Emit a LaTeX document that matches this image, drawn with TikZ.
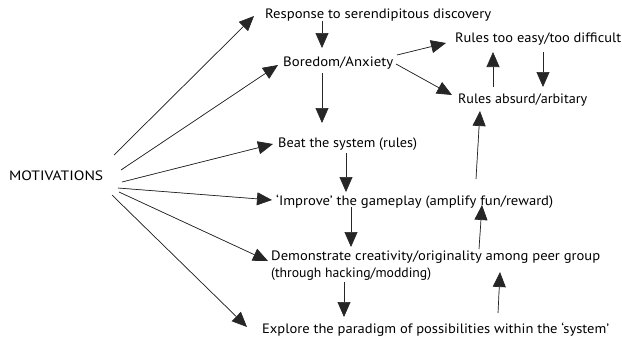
\documentclass[tikz,border=0pt]{standalone}
\usepackage{fontspec}
\setmainfont{PT Sans}
\usetikzlibrary{arrows.meta}
\newsavebox\fitbox
\newcommand\fitw[2]{\sbox\fitbox{#2}\pgfmathsetmacro\fitr{#1/\wd\fitbox}\scalebox{\fitr}[1]{\usebox\fitbox}}
\begin{document}
\begin{tikzpicture}[x=1pt,y=-1pt,
  txt/.style={anchor=base west, inner sep=0pt, font=\fontsize{13.6}{17}\selectfont, align=left},
  arr/.style={-{Triangle[length=15pt,width=13pt]}, line width=0.7pt, draw=black!85, fill=black}]
\useasboundingbox (0,0) rectangle (622,341);
% text nodes
\node[txt] (mot) at (9,180) {\fitw{94}{MOTIVATIONS}};
\node[txt] (resp) at (265,18) {\fitw{226}{Response to serendipitous discovery}};
\node[txt] (bore) at (283,66) {\fitw{110}{Boredom/Anxiety}};
\node[txt] (easy) at (455,42) {\fitw{166}{Rules too easy/too difficult}};
\node[txt] (absurd) at (458,103) {\fitw{129}{Rules absurd/arbitary}};
\node[txt] (beat) at (278,147) {\fitw{139}{Beat the system (rules)}};
\node[txt] (impr) at (276,205) {\fitw{277}{‘Improve’ the gameplay (amplify fun/reward)}};
\node[txt] (demo) at (271,277) {\fitw{329}{Demonstrate creativity/originality among peer group}\\\fitw{160}{(through hacking/modding)}};
\node[txt] (expl) at (262,333) {\fitw{347}{Explore the paradigm of possibilities within the ‘system’}};
% connector end points
\coordinate (m1) at (114,155); \coordinate (t1) at (254,16);
\coordinate (m2) at (121,170); \coordinate (t2) at (278,65);
\coordinate (m3) at (122,182); \coordinate (t3) at (273,144);
\coordinate (m4) at (118,188); \coordinate (t4) at (272,200);
\coordinate (m5) at (119,192); \coordinate (t5) at (268,261);
\coordinate (m6) at (112,195); \coordinate (t6) at (247,327);
\coordinate (r1) at (322,21); \coordinate (b1) at (322,48);
\coordinate (b2) at (322,73); \coordinate (s1) at (322,123);
\coordinate (b3) at (397,55); \coordinate (e1) at (446,43);
\coordinate (b4) at (396,64); \coordinate (a1) at (452,95);
\coordinate (a2) at (493,87); \coordinate (e2) at (493,52);
\coordinate (e3) at (543,52); \coordinate (a3) at (543,87);
\coordinate (s2) at (346,153); \coordinate (i1) at (346,192);
\coordinate (i2) at (351,207); \coordinate (d1) at (351,247);
\coordinate (d2) at (476,179); \coordinate (a4) at (480,111);
\coordinate (d3) at (479,249); \coordinate (i3) at (482,205);
\coordinate (x1) at (498,313); \coordinate (d4) at (500,272);
\coordinate (d5) at (344,282); \coordinate (x2) at (344,317);
% connectors
\foreach \a/\b in {m1/t1,m2/t2,m3/t3,m4/t4,m5/t5,m6/t6,r1/b1,b2/s1,b3/e1,b4/a1,a2/e2,e3/a3,s2/i1,i2/d1,d2/a4,d3/i3,x1/d4,d5/x2}
  \draw[arr] (\a) -- (\b);
\end{tikzpicture}
\end{document}
